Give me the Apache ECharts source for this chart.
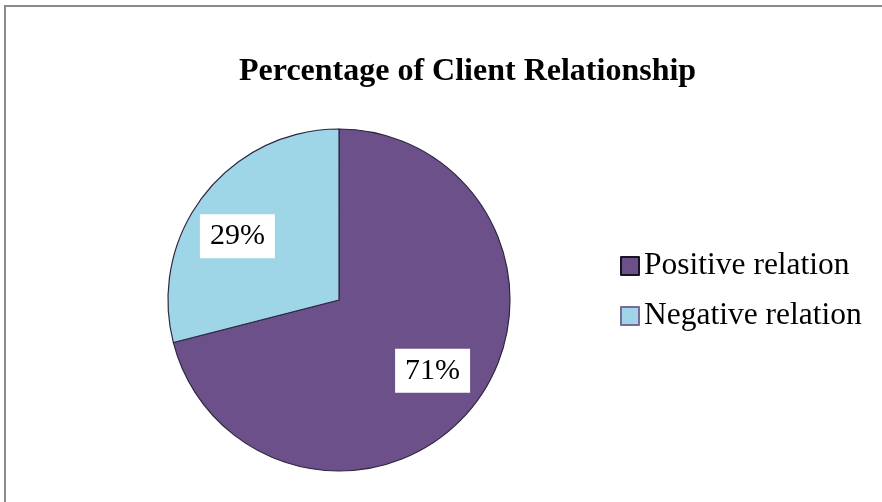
<!DOCTYPE html>
<html><head><meta charset="utf-8">
<script src="https://cdn.jsdelivr.net/npm/echarts@6/dist/echarts.min.js"></script>
<style>html,body{margin:0;padding:0;background:#fff}#c{width:882px;height:502px}</style>
</head><body><div id="c"></div>
<script>
const categories = ['Positive relation', 'Negative relation'];
const values = [71, 29];
const colors = ['#6B5089', '#9ED6E8'];
const titleText = 'Percentage of Client Relationship';

const chart = echarts.init(document.getElementById('c'));
const data = categories.map((n, i) => ({name: n, value: values[i], itemStyle: {color: colors[i]}}));
const labelOffsets = [[-4, -5], [-4, 12]];
const font = '"Liberation Serif", "Times New Roman", serif';
chart.setOption({
  animation: false,
  title: {text: titleText, left: 234, top: 51,
    textStyle: {fontFamily: font, fontSize: 32, fontWeight: 'bold', color: '#000'}},
  legend: {orient: 'vertical', left: 615, top: 245, itemGap: 18, icon: 'rect',
    itemWidth: 18, itemHeight: 18,
    data: categories.map((n, i) => ({name: n, itemStyle: {borderColor: i === 0 ? '#1a1422' : '#7a6a95', borderWidth: 2}})),
    textStyle: {fontFamily: font, fontSize: 31.5, color: '#000', padding: [0, 0, 0, 0]}},
  graphic: [{type: 'rect', shape: {x: 5, y: 6, width: 900, height: 520},
    style: {fill: 'none', stroke: '#8a8a8a', lineWidth: 2}, silent: true}],
  series: [
    {type: 'pie', center: [339, 300], radius: [0, 171], startAngle: 90, clockwise: true,
      data: data, label: {show: false}, labelLine: {show: false},
      itemStyle: {borderColor: '#2f2640', borderWidth: 1.2}, emphasis: {disabled: true}},
    {type: 'pie', center: [339, 300], radius: [70, 171], startAngle: 90, clockwise: true,
      silent: true, legendHoverLink: false,
      data: categories.map((n, i) => ({name: n + ' ', value: values[i], label: {offset: labelOffsets[i]}})),
      itemStyle: {color: 'rgba(0,0,0,0)'},
      label: {show: true, position: 'inside', formatter: '{d}%', fontFamily: font, fontSize: 30,
        color: '#000', backgroundColor: '#fff', padding: [7, 10, 7, 10]},
      labelLine: {show: false}, emphasis: {disabled: true}}
  ]
});
</script></body></html>
